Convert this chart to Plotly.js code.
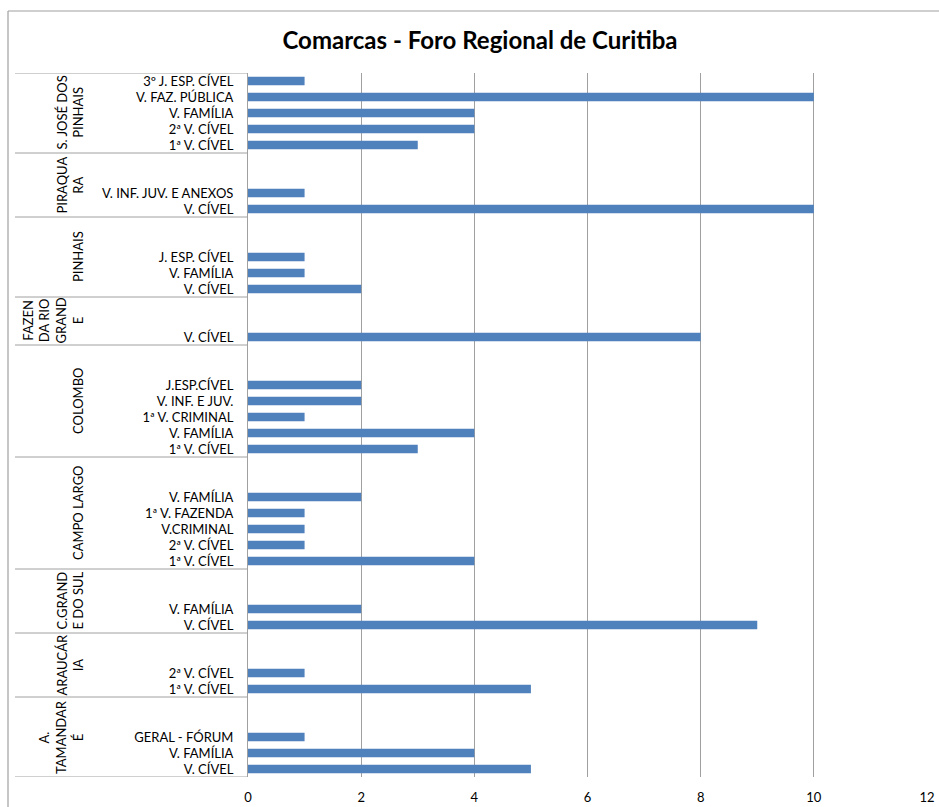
<!DOCTYPE html>
<html>
<head>
<meta charset="utf-8">
<script src="https://cdn.plot.ly/plotly-3.0.1.min.js"></script>
<style>
  html, body { margin: 0; padding: 0; background: #fff; }
  #chart { width: 939px; height: 807px; }
</style>
</head>
<body>
<div id="chart"></div>
<script>
// Comarcas (bottom to top) and their wrapped labels for the group column
const comarcas = [
  "A. TAMANDARÉ", "ARAUCÁRIA", "C.GRANDE DO SUL", "CAMPO LARGO", "COLOMBO",
  "FAZENDA RIO GRANDE", "PINHAIS", "PIRAQUARA", "S. JOSÉ DOS PINHAIS"
];
const comarcaLabels = [
  "A.<br>TAMANDAR<br>É", "ARAUCÁR<br>IA", "C.GRAND<br>E DO SUL", "CAMPO LARGO", "COLOMBO",
  "FAZEN<br>DA RIO<br>GRAND<br>E", "PINHAIS", "PIRAQUA<br>RA", "S. JOSÉ DOS<br>PINHAIS"
];

// One entry per court: which comarca it belongs to, its name and its count
const courtComarca = [
  "A. TAMANDARÉ", "A. TAMANDARÉ", "A. TAMANDARÉ",
  "ARAUCÁRIA", "ARAUCÁRIA",
  "C.GRANDE DO SUL", "C.GRANDE DO SUL",
  "CAMPO LARGO", "CAMPO LARGO", "CAMPO LARGO", "CAMPO LARGO", "CAMPO LARGO",
  "COLOMBO", "COLOMBO", "COLOMBO", "COLOMBO", "COLOMBO",
  "FAZENDA RIO GRANDE",
  "PINHAIS", "PINHAIS", "PINHAIS",
  "PIRAQUARA", "PIRAQUARA",
  "S. JOSÉ DOS PINHAIS", "S. JOSÉ DOS PINHAIS", "S. JOSÉ DOS PINHAIS", "S. JOSÉ DOS PINHAIS", "S. JOSÉ DOS PINHAIS"
];
const courts = [
  "V. CÍVEL", "V. FAMÍLIA", "GERAL - FÓRUM",
  "1ª V. CÍVEL", "2ª V. CÍVEL",
  "V. CÍVEL", "V. FAMÍLIA",
  "1ª V. CÍVEL", "2ª V. CÍVEL", "V.CRIMINAL", "1ª V. FAZENDA", "V. FAMÍLIA",
  "1ª V. CÍVEL", "V. FAMÍLIA", "1ª V. CRIMINAL", "V. INF. E JUV.", "J.ESP.CÍVEL",
  "V. CÍVEL",
  "V. CÍVEL", "V. FAMÍLIA", "J. ESP. CÍVEL",
  "V. CÍVEL", "V. INF. JUV. E ANEXOS",
  "1ª V. CÍVEL", "2ª V. CÍVEL", "V. FAMÍLIA", "V. FAZ. PÚBLICA", "3º J. ESP. CÍVEL"
];
const counts = [
  5, 4, 1,
  5, 1,
  9, 2,
  4, 1, 1, 1, 2,
  3, 4, 1, 2, 2,
  8,
  2, 1, 1,
  10, 1,
  3, 4, 4, 10, 1
];

// Category slots: each comarca's courts, followed by empty slots before the next comarca
const GAP_SLOTS = 2;
const slotOf = [];
const groupSpans = [];
let slot = 0;
comarcas.forEach((c, gi) => {
  const start = slot;
  courtComarca.forEach((cc, i) => {
    if (cc === c) { slotOf[i] = slot; slot += 1; }
  });
  if (gi < comarcas.length - 1) slot += GAP_SLOTS;
  groupSpans.push([start - 0.5, slot - 0.5]);
});
const totalSlots = slot;

const FONT = "Lato, 'Open Sans', sans-serif";
const LINE = "#a0a0a0";

// Plot-area geometry in pixels (used to place the side column in paper units)
const W = 939, H = 807;
const PLOT_L = 248, PLOT_R = 927, PLOT_T = 73, PLOT_B = 777;
const plotW = PLOT_R - PLOT_L, plotH = PLOT_B - PLOT_T;
const px2paperX = px => (px - PLOT_L) / plotW;
const px2paperY = py => (PLOT_B - py) / plotH;

const shapes = [];
// horizontal dividers of the comarca column
const edges = new Set();
groupSpans.forEach(([a, b]) => { edges.add(a); edges.add(b); });
edges.forEach(yv => {
  shapes.push({
    type: "line", xref: "paper", yref: "y",
    x0: px2paperX(15), x1: 0, y0: yv, y1: yv,
    line: { color: LINE, width: 1 }
  });
});
// outer chart frame (top and left edges)
shapes.push({
  type: "line", xref: "paper", yref: "paper",
  x0: px2paperX(8), x1: px2paperX(945), y0: px2paperY(11), y1: px2paperY(11),
  line: { color: LINE, width: 1.2 }
});
shapes.push({
  type: "line", xref: "paper", yref: "paper",
  x0: px2paperX(8), x1: px2paperX(8), y0: px2paperY(812), y1: px2paperY(11),
  line: { color: LINE, width: 1.2 }
});

// comarca names, rotated, centred on their block of slots
const annotations = comarcas.map((c, gi) => ({
  xref: "paper", yref: "y",
  x: px2paperX(88), y: (groupSpans[gi][0] + groupSpans[gi][1]) / 2,
  xanchor: "right", yanchor: "middle",
  text: comarcaLabels[gi],
  textangle: -90, align: "center", showarrow: false,
  font: { family: FONT, size: 13, color: "#000" }
}));

const trace = {
  type: "bar",
  orientation: "h",
  x: counts,
  y: slotOf,
  width: 0.53,
  marker: { color: "#4f81bd", line: { width: 0 } },
  hoverinfo: "x"
};

const layout = {
  width: W, height: H,
  paper_bgcolor: "#fff", plot_bgcolor: "#fff",
  margin: { l: PLOT_L, r: W - PLOT_R, t: PLOT_T, b: H - PLOT_B, pad: 0 },
  showlegend: false,
  title: {
    text: "<b>Comarcas - Foro Regional de Curitiba</b>",
    xref: "container", yref: "container",
    x: 480 / W, xanchor: "center",
    y: 1 - 41 / H, yanchor: "middle",
    font: { family: FONT, size: 24, color: "#000" }
  },
  xaxis: {
    range: [0, 12], dtick: 2, tick0: 0,
    showgrid: true, gridcolor: LINE, gridwidth: 1,
    zeroline: false, showline: false,
    ticks: "", ticklabelstandoff: 11,
    tickfont: { family: FONT, size: 13, color: "#000" },
    fixedrange: true
  },
  yaxis: {
    range: [-0.5, totalSlots - 0.5],
    tickmode: "array", tickvals: slotOf, ticktext: courts,
    showgrid: false, zeroline: false,
    showline: true, linecolor: LINE, linewidth: 1,
    ticks: "", ticklabelstandoff: 11,
    tickfont: { family: FONT, size: 13, color: "#000" },
    fixedrange: true
  },
  shapes: shapes,
  annotations: annotations
};

Plotly.newPlot("chart", [trace], layout, { displayModeBar: false, staticPlot: true });
</script>
</body>
</html>
